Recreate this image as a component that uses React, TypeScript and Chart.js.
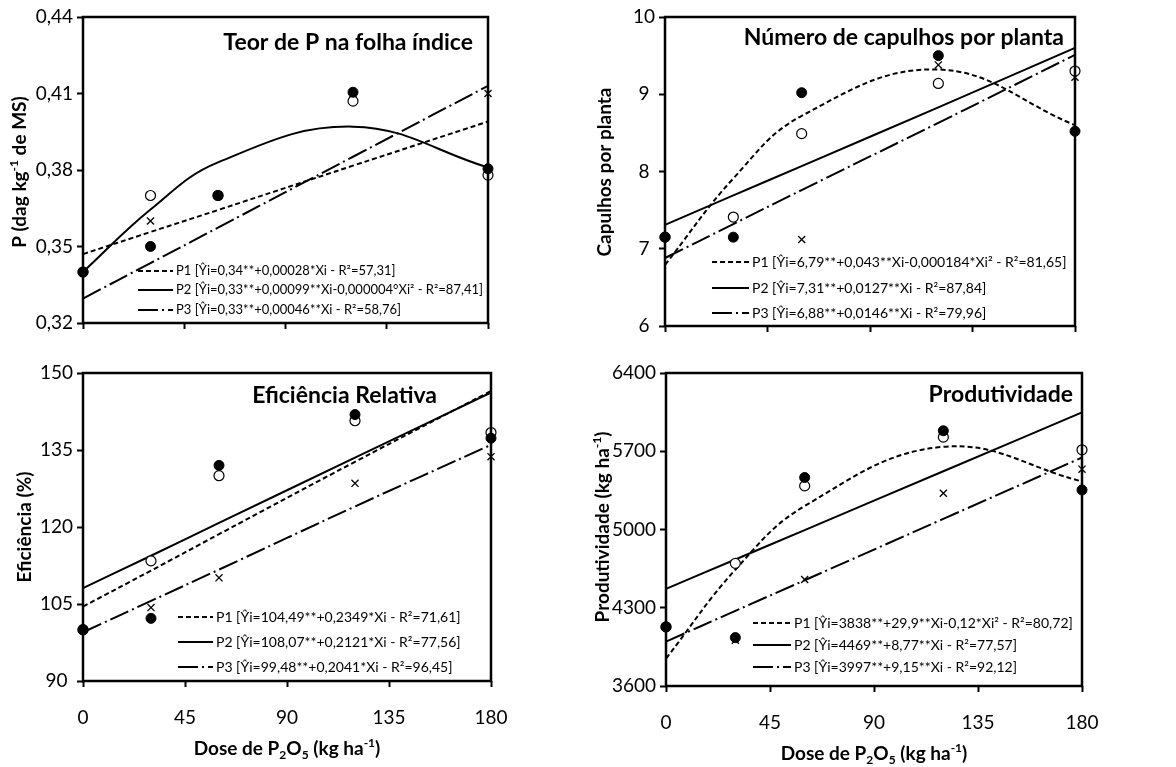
import React, { useEffect, useRef } from "react";
import { Chart, registerables } from "chart.js";

Chart.register(...registerables);

const FONT = "Lato, 'Open Sans', 'DejaVu Sans', sans-serif";

// ---------- shared x axis ----------
const doses = [0, 30, 60, 120, 180];
const xTickValues = [0, 45, 90, 135, 180];
const xTickLabels = ["0", "45", "90", "135", "180"];

// ---------- Teor de P na folha índice ----------
const teorTicks = [0.32, 0.35, 0.38, 0.41, 0.44];
const teorTickLabels = ["0,32", "0,35", "0,38", "0,41", "0,44"];
const teorOpen = [0.34, 0.37, 0.37, 0.407, 0.378];
const teorFilled = [0.34, 0.35, 0.37, 0.4105, 0.3805];
const teorCross = [0.34, 0.36, 0.37, 0.41, 0.41];
const teorFitP1 = [0.347, 0.3557, 0.3643, 0.3817, 0.399];
const teorFitP2 = [0.34, 0.3645, 0.383, 0.397, 0.381];
const teorFitP3 = [0.3296, 0.3435, 0.3574, 0.3852, 0.413];
const teorLegend = [
  "P1 [Ŷi=0,34**+0,00028*Xi - R²=57,31]",
  "P2 [Ŷi=0,33**+0,00099**Xi-0,000004°Xi² - R²=87,41]",
  "P3 [Ŷi=0,33**+0,00046**Xi - R²=58,76]",
];

// ---------- Número de capulhos por planta ----------
const capTicks = [6, 7, 8, 9, 10];
const capTickLabels = ["6", "7", "8", "9", "10"];
const capFilled = [7.15, 7.15, 9.02, 9.5, 8.52];
const capOpen = [7.15, 7.41, 8.49, 9.14, 9.3];
const capCross = [7.15, 7.15, 7.12, 9.38, 9.22];
const capFitP1 = [6.79, 7.91, 8.72, 9.32, 8.6];
const capFitP2 = [7.31, 7.69, 8.07, 8.83, 9.6];
const capFitP3 = [6.88, 7.32, 7.76, 8.63, 9.51];
const capLegend = [
  "P1 [Ŷi=6,79**+0,043**Xi-0,000184*Xi² - R²=81,65]",
  "P2 [Ŷi=7,31**+0,0127**Xi - R²=87,84]",
  "P3 [Ŷi=6,88**+0,0146**Xi - R²=79,96]",
];

// ---------- Eficiência Relativa ----------
const efTicks = [90, 105, 120, 135, 150];
const efTickLabels = ["90", "105", "120", "135", "150"];
const efFilled = [100, 102.2, 132.0, 141.9, 137.3];
const efOpen = [100, 113.4, 130.0, 140.7, 138.4];
const efCross = [100, 104.3, 110.1, 128.5, 133.7];
const efFitP1 = [104.5, 111.5, 118.6, 132.7, 146.5];
const efFitP2 = [108.1, 114.4, 120.8, 133.5, 146.2];
const efFitP3 = [99.5, 105.6, 111.7, 124.0, 136.0];
const efLegend = [
  "P1 [Ŷi=104,49**+0,2349*Xi - R²=71,61]",
  "P2 [Ŷi=108,07**+0,2121*Xi - R²=77,56]",
  "P3 [Ŷi=99,48**+0,2041*Xi - R²=96,45]",
];

// ---------- Produtividade ----------
const prodTicks = [3600, 4300, 5000, 5700, 6400];
const prodTickLabels = ["3600", "4300", "5000", "5700", "6400"];
const prodFilled = [4129, 4033, 5465, 5883, 5354];
const prodOpen = [4129, 4697, 5390, 5826, 5713];
const prodCross = [4129, 4009, 4553, 5324, 5540];
const prodFitP1 = [3845, 4640, 5210, 5740, 5430];
const prodFitP2 = [4469, 4732, 4995, 5521, 6048];
const prodFitP3 = [3997, 4272, 4546, 5095, 5644];
const prodLegend = [
  "P1 [Ŷi=3838**+29,9**Xi-0,12*Xi² - R²=80,72]",
  "P2 [Ŷi=4469**+8,77**Xi - R²=77,57]",
  "P3 [Ŷi=3997**+9,15**Xi - R²=92,12]",
];

// ---------- styles ----------
const dashP1 = [5, 3];
const dashP2: number[] = [];
const dashP3 = [20, 4, 2, 4];
const legendDashes = [dashP1, dashP2, dashP3];

type Seg = { t: string; s?: "sup" | "sub" };

const xTitleSegs: Seg[] = [
  { t: "Dose de P" },
  { t: "2", s: "sub" },
  { t: "O" },
  { t: "5", s: "sub" },
  { t: " (kg ha" },
  { t: "-1", s: "sup" },
  { t: ")" },
];

function drawRich(
  ctx: CanvasRenderingContext2D,
  segs: Seg[],
  size: number,
  cx: number,
  cy: number,
  rotate: boolean
) {
  ctx.save();
  ctx.translate(cx, cy);
  if (rotate) ctx.rotate(-Math.PI / 2);
  const fontFor = (s?: string) =>
    `bold ${s ? Math.round(size * 0.62) : size}px ${FONT}`;
  let total = 0;
  const widths = segs.map((sg) => {
    ctx.font = fontFor(sg.s);
    const w = ctx.measureText(sg.t).width;
    total += w;
    return w;
  });
  let x = -total / 2;
  ctx.textAlign = "left";
  ctx.textBaseline = "alphabetic";
  ctx.fillStyle = "#000";
  const base = size * 0.36;
  segs.forEach((sg, i) => {
    ctx.font = fontFor(sg.s);
    const dy = sg.s === "sup" ? -size * 0.4 : sg.s === "sub" ? size * 0.2 : 0;
    ctx.fillText(sg.t, x, base + dy);
    x += widths[i];
  });
  ctx.restore();
}

type PanelSpec = {
  box: { left: number; top: number; w: number; h: number };
  padding: { left: number; right: number; top: number; bottom: number };
  xAxisHeight: number;
  showXLabels: boolean;
  yTicks: number[];
  yTickLabels: string[];
  filled: number[];
  open: number[];
  cross: number[];
  fits: number[][];
  title: { text: string; right: number; baseline: number };
  yTitle: { segs: Seg[]; cx: number; cy: number };
  xTitle?: { cx: number; cy: number };
  legend: { x: number; len: number; rows: number[]; items: string[]; font: number };
};

const panels: PanelSpec[] = [
  {
    box: { left: 0, top: 0, w: 585, h: 345 },
    padding: { left: 28, right: 97, top: 17, bottom: 12 },
    xAxisHeight: 10,
    showXLabels: false,
    yTicks: teorTicks,
    yTickLabels: teorTickLabels,
    filled: teorFilled,
    open: teorOpen,
    cross: teorCross,
    fits: [teorFitP1, teorFitP2, teorFitP3],
    title: { text: "Teor de P na folha índice", right: 473, baseline: 50 },
    yTitle: {
      segs: [{ t: "P (dag kg" }, { t: "-1", s: "sup" }, { t: " de MS)" }],
      cx: 19,
      cy: 172,
    },
    legend: { x: 138, len: 35, rows: [271, 290, 310], items: teorLegend, font: 13 },
  },
  {
    box: { left: 585, top: 0, w: 591, h: 345 },
    padding: { left: 25, right: 101, top: 17, bottom: 9 },
    xAxisHeight: 10,
    showXLabels: false,
    yTicks: capTicks,
    yTickLabels: capTickLabels,
    filled: capFilled,
    open: capOpen,
    cross: capCross,
    fits: [capFitP1, capFitP2, capFitP3],
    title: { text: "Número de capulhos por planta", right: 479, baseline: 45 },
    yTitle: { segs: [{ t: "Capulhos por planta" }], cx: 19, cy: 172 },
    legend: { x: 127, len: 37, rows: [262, 288, 313], items: capLegend, font: 14 },
  },
  {
    box: { left: 0, top: 345, w: 585, h: 422 },
    padding: { left: 28, right: 94, top: 28, bottom: 36 },
    xAxisHeight: 50,
    showXLabels: true,
    yTicks: efTicks,
    yTickLabels: efTickLabels,
    filled: efFilled,
    open: efOpen,
    cross: efCross,
    fits: [efFitP1, efFitP2, efFitP3],
    title: { text: "Eficiência Relativa", right: 437, baseline: 58 },
    yTitle: { segs: [{ t: "Eficiência (%)" }], cx: 24, cy: 182 },
    xTitle: { cx: 287, cy: 403 },
    legend: { x: 178, len: 35, rows: [272, 297, 322], items: efLegend, font: 14 },
  },
  {
    box: { left: 585, top: 345, w: 591, h: 422 },
    padding: { left: 26, right: 94, top: 28, bottom: 31 },
    xAxisHeight: 50,
    showXLabels: true,
    yTicks: prodTicks,
    yTickLabels: prodTickLabels,
    filled: prodFilled,
    open: prodOpen,
    cross: prodCross,
    fits: [prodFitP1, prodFitP2, prodFitP3],
    title: { text: "Produtividade", right: 488, baseline: 57 },
    yTitle: {
      segs: [{ t: "Produtividade (kg ha" }, { t: "-1", s: "sup" }, { t: ")" }],
      cx: 17,
      cy: 182,
    },
    xTitle: { cx: 289, cy: 408 },
    legend: { x: 168, len: 38, rows: [278, 300, 322], items: prodLegend, font: 14 },
  },
];

const toPts = (ys: number[]) => doses.map((x, i) => ({ x, y: ys[i] }));

function buildConfig(spec: PanelSpec): any {
  const lineDs = (ys: number[], dash: number[], order: number) => ({
    data: toPts(ys),
    showLine: true,
    borderColor: "#000",
    borderWidth: 2,
    borderDash: dash,
    pointRadius: 0,
    tension: 0.4,
    fill: false,
    clip: false,
    order,
  });
  const markerDs = (ys: number[], style: string, bg: string, bw: number, order: number) => ({
    data: toPts(ys),
    showLine: false,
    pointStyle: style,
    pointRadius: 5,
    pointBackgroundColor: bg,
    pointBorderColor: "#000",
    pointBorderWidth: bw,
    clip: false,
    order,
  });

  const decor = {
    id: "decor",
    afterDraw(chart: any) {
      const ctx: CanvasRenderingContext2D = chart.ctx;
      const a = chart.chartArea;
      ctx.save();
      // frame
      ctx.strokeStyle = "#000";
      ctx.lineWidth = 2.5;
      ctx.setLineDash([]);
      ctx.strokeRect(a.left, a.top, a.right - a.left, a.bottom - a.top);
      // panel title
      ctx.fillStyle = "#000";
      ctx.font = `bold 23px ${FONT}`;
      ctx.textAlign = "right";
      ctx.textBaseline = "alphabetic";
      ctx.fillText(spec.title.text, spec.title.right, spec.title.baseline);
      // legend
      const lg = spec.legend;
      lg.items.forEach((label, i) => {
        const y = lg.rows[i];
        ctx.setLineDash(legendDashes[i]);
        ctx.lineWidth = 2;
        ctx.beginPath();
        ctx.moveTo(lg.x, y);
        ctx.lineTo(lg.x + lg.len, y);
        ctx.stroke();
        ctx.setLineDash([]);
        ctx.font = `${lg.font}px ${FONT}`;
        ctx.textAlign = "left";
        ctx.textBaseline = "middle";
        ctx.fillText(label, lg.x + lg.len + 3, y);
      });
      ctx.restore();
      // axis titles
      drawRich(ctx, spec.yTitle.segs, 19, spec.yTitle.cx, spec.yTitle.cy, true);
      if (spec.xTitle) drawRich(ctx, xTitleSegs, 19, spec.xTitle.cx, spec.xTitle.cy, false);
    },
  };

  return {
    type: "scatter",
    data: {
      datasets: [
        lineDs(spec.fits[2], dashP3, 5),
        lineDs(spec.fits[1], dashP2, 4),
        lineDs(spec.fits[0], dashP1, 3),
        markerDs(spec.cross, "crossRot", "#000", 1.3, 2),
        markerDs(spec.open, "circle", "#fff", 1.2, 1),
        markerDs(spec.filled, "circle", "#000", 1, 0),
      ],
    },
    options: {
      animation: false,
      responsive: true,
      maintainAspectRatio: false,
      layout: { padding: spec.padding },
      plugins: {
        legend: { display: false },
        tooltip: { enabled: false },
        title: { display: false },
      },
      events: [],
      scales: {
        x: {
          type: "linear",
          min: 0,
          max: 180,
          afterBuildTicks: (s: any) => {
            s.ticks = xTickValues.map((v) => ({ value: v }));
          },
          afterFit: (s: any) => {
            s.height = spec.xAxisHeight;
          },
          grid: {
            display: true,
            drawOnChartArea: false,
            drawTicks: true,
            tickLength: 6,
            tickWidth: 2,
            tickColor: "#000",
            color: "#000",
          },
          border: { display: false },
          ticks: {
            display: spec.showXLabels,
            padding: 19,
            color: "#000",
            font: { family: FONT, size: 19 },
            maxRotation: 0,
            autoSkip: false,
            callback: (_v: any, i: number) => xTickLabels[i],
          },
        },
        y: {
          type: "linear",
          min: spec.yTicks[0],
          max: spec.yTicks[spec.yTicks.length - 1],
          afterBuildTicks: (s: any) => {
            s.ticks = spec.yTicks.map((v) => ({ value: v }));
          },
          afterFit: (s: any) => {
            s.width = 55;
          },
          grid: {
            display: true,
            drawOnChartArea: false,
            drawTicks: true,
            tickLength: 6,
            tickWidth: 2,
            tickColor: "#000",
            color: "#000",
          },
          border: { display: false },
          ticks: {
            padding: 4,
            crossAlign: "center",
            color: "#000",
            font: { family: FONT, size: 19 },
            autoSkip: false,
            callback: (_v: any, i: number) => spec.yTickLabels[i],
          },
        },
      },
    },
    plugins: [decor],
  };
}

function Panel({ spec }: { spec: PanelSpec }) {
  const ref = useRef<HTMLCanvasElement>(null);
  useEffect(() => {
    if (!ref.current) return;
    const chart = new Chart(ref.current, buildConfig(spec));
    return () => chart.destroy();
  }, [spec]);
  return (
    <div
      style={{
        position: "absolute",
        left: spec.box.left,
        top: spec.box.top,
        width: spec.box.w,
        height: spec.box.h,
      }}
    >
      <canvas ref={ref} />
    </div>
  );
}

export default function App() {
  return (
    <div
      style={{
        position: "absolute",
        left: 0,
        top: 0,
        width: 1176,
        height: 767,
        background: "#fff",
        overflow: "hidden",
      }}
    >
      {panels.map((p, i) => (
        <Panel key={i} spec={p} />
      ))}
    </div>
  );
}
